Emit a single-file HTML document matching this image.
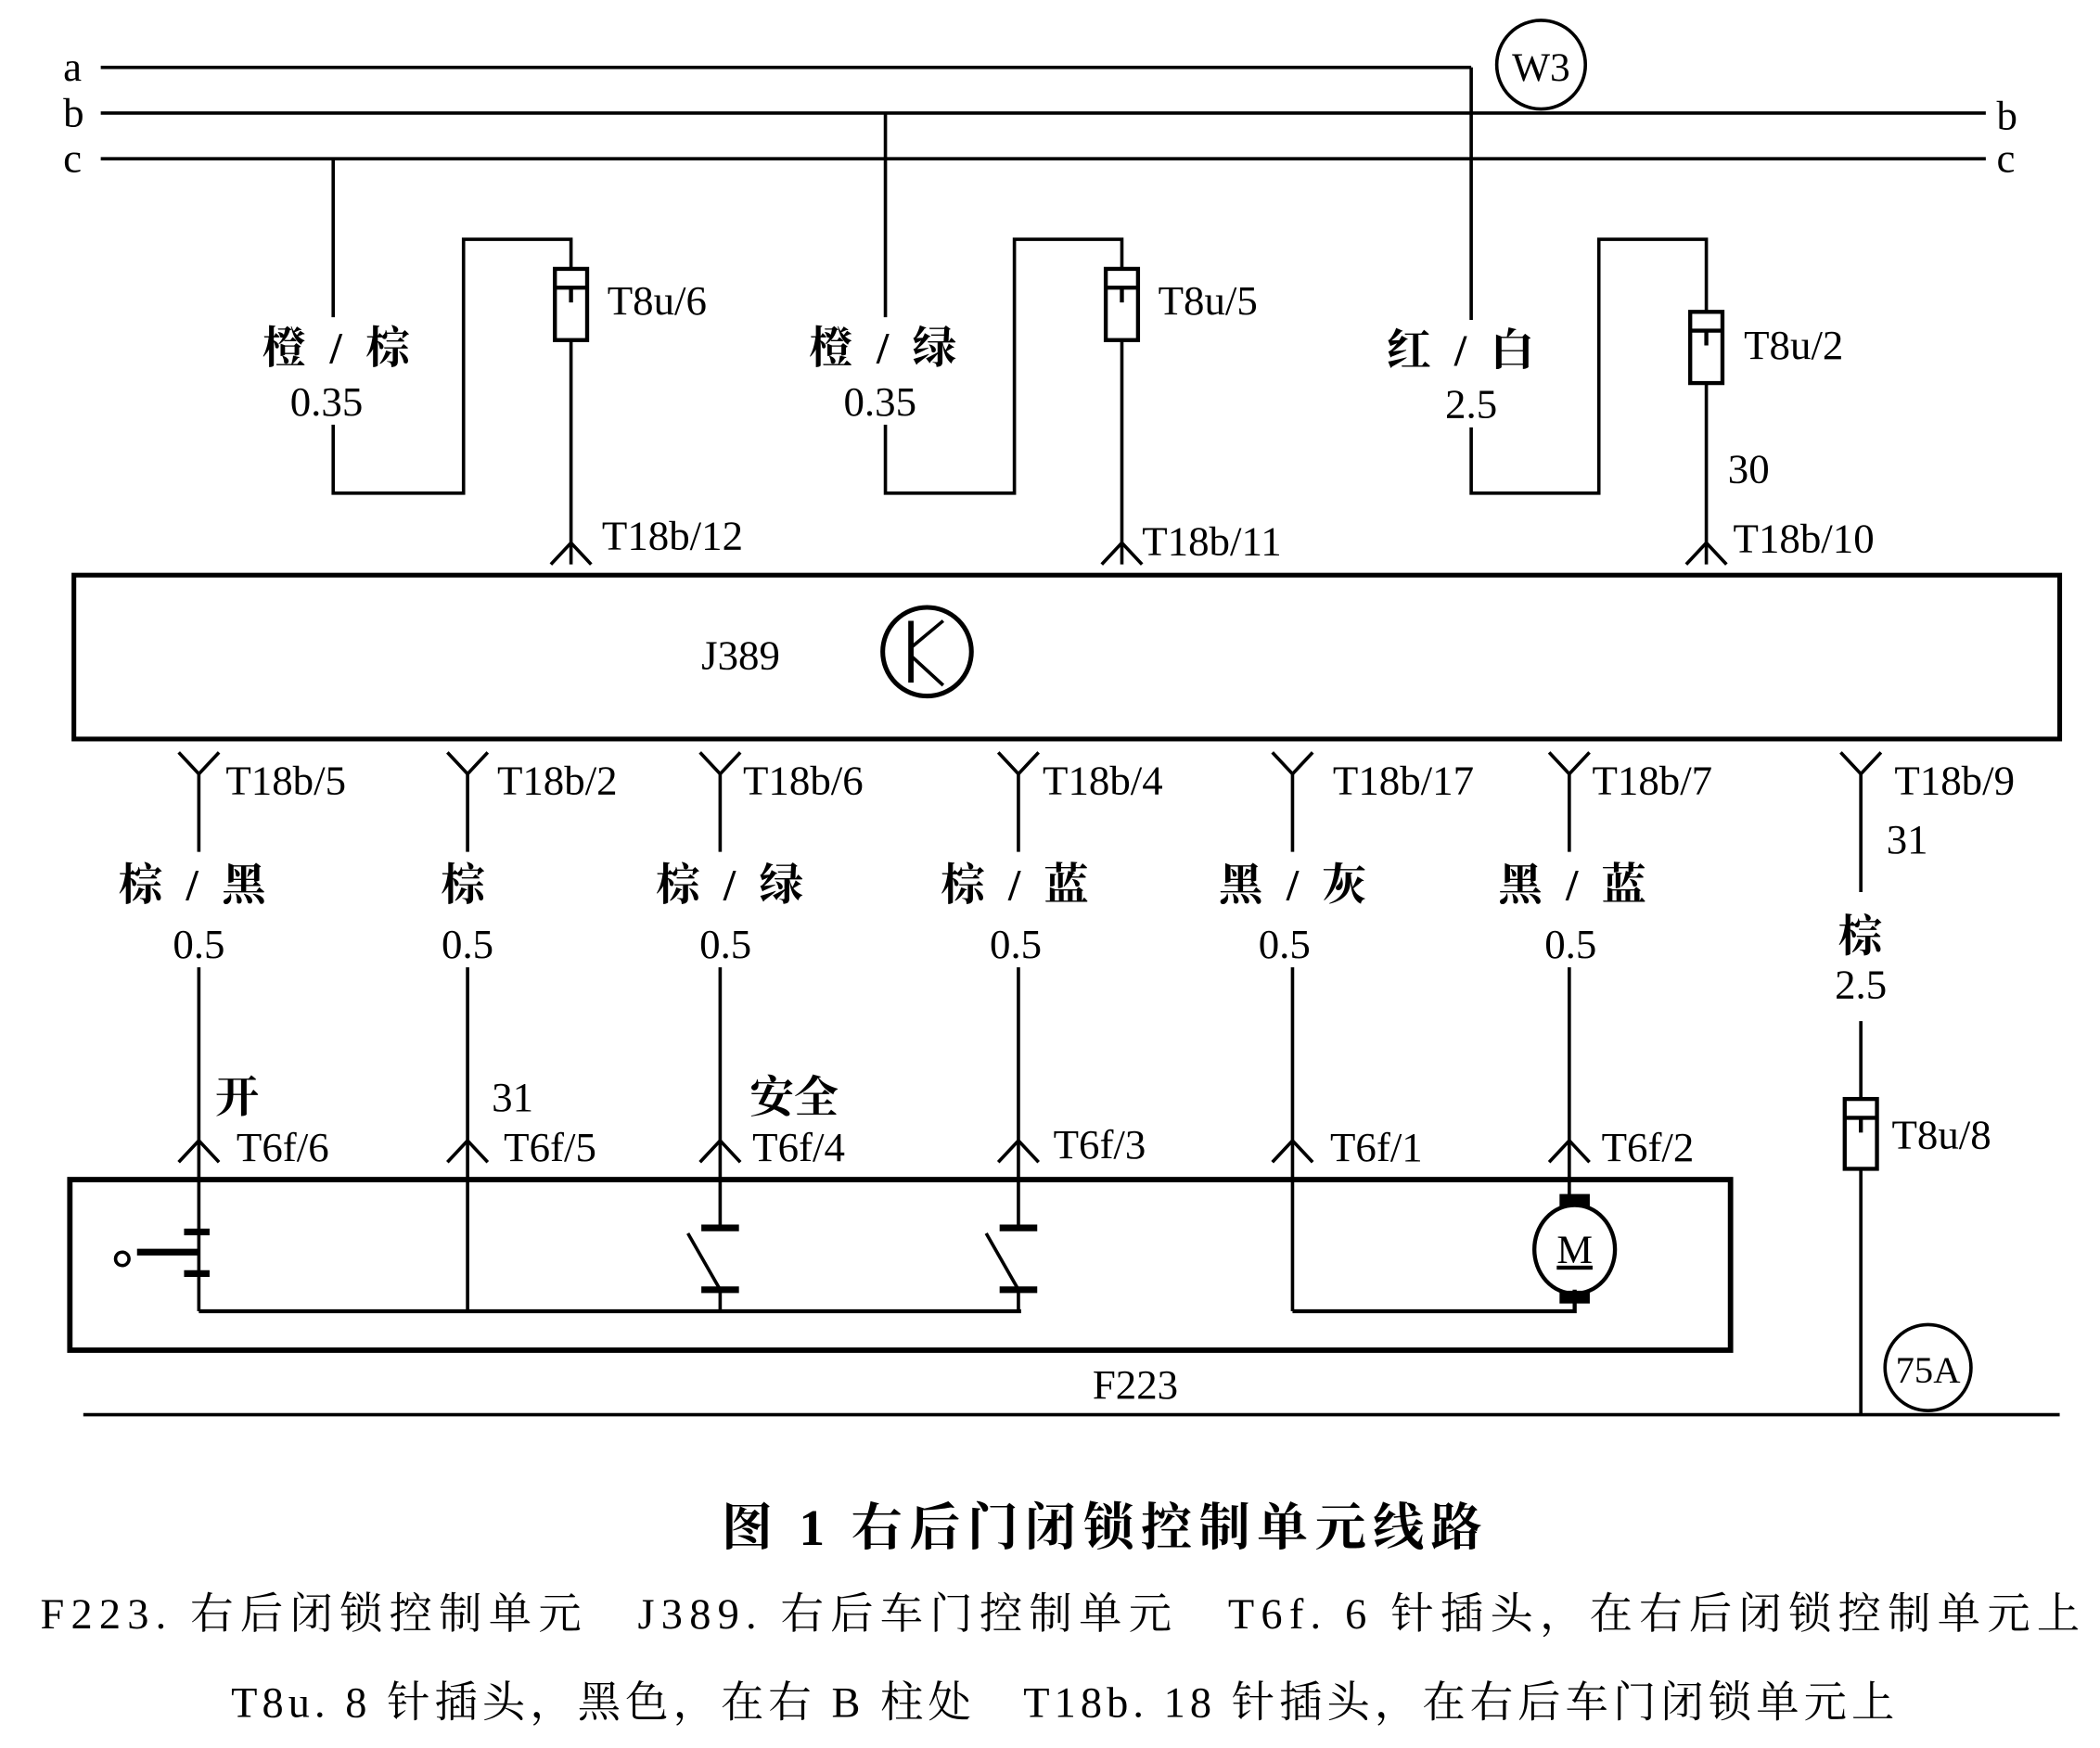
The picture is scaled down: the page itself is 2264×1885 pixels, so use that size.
<!DOCTYPE html>
<html><head><meta charset="utf-8"><style>
html,body{margin:0;padding:0;background:#fff;width:2264px;height:1885px;overflow:hidden}
svg{display:block}
text{font-family:"Liberation Serif","Noto Serif CJK SC",serif;fill:#000}
.z{font-family:"Liberation Sans","Noto Sans CJK SC",sans-serif;font-weight:bold}
</style></head><body>
<svg width="2264" height="1885" viewBox="0 0 1563 1301" xmlns="http://www.w3.org/2000/svg">
<g stroke="#000" stroke-width="2.5" fill="none">
<line x1="75" y1="50" x2="1095" y2="50"/>
<line x1="75" y1="84" x2="1478" y2="84"/>
<line x1="75" y1="118" x2="1478" y2="118"/>
<circle cx="1147" cy="48" r="33"/>
<polyline points="248,118 248,367 345,367 345,178 425,178 425,200"/>
<line x1="425" y1="253" x2="425" y2="420"/>
<polyline points="659,84 659,367 755,367 755,178 835,178 835,200"/>
<line x1="835" y1="253" x2="835" y2="420"/>
<polyline points="1095,50 1095,367 1190,367 1190,178 1270,178 1270,232"/>
<line x1="1270" y1="285" x2="1270" y2="420"/>
<polyline points="410,420 425,404 440,420"/>
<polyline points="820,420 835,404 850,420"/>
<polyline points="1255,420 1270,404 1285,420"/>
<rect x="55" y="428" width="1478" height="122" stroke-width="3.5"/>
<circle cx="690" cy="485" r="33" stroke-width="3.5"/>
<line x1="678" y1="462" x2="678" y2="508" stroke-width="4"/>
<line x1="678" y1="482" x2="702" y2="462"/>
<line x1="678" y1="488" x2="702" y2="510"/>
<g>
<polyline points="133,560 148,576 163,560"/><line x1="148" y1="576" x2="148" y2="634"/>
<polyline points="333,560 348,576 363,560"/><line x1="348" y1="576" x2="348" y2="634"/>
<polyline points="521,560 536,576 551,560"/><line x1="536" y1="576" x2="536" y2="634"/>
<polyline points="743,560 758,576 773,560"/><line x1="758" y1="576" x2="758" y2="634"/>
<polyline points="947,560 962,576 977,560"/><line x1="962" y1="576" x2="962" y2="634"/>
<polyline points="1153,560 1168,576 1183,560"/><line x1="1168" y1="576" x2="1168" y2="634"/>
<polyline points="1370,560 1385,576 1400,560"/><line x1="1385" y1="576" x2="1385" y2="664"/>
</g>
<g>
<line x1="148" y1="720" x2="148" y2="976"/><polyline points="133,865 148,849 163,865"/>
<line x1="348" y1="720" x2="348" y2="976"/><polyline points="333,865 348,849 363,865"/>
<line x1="536" y1="720" x2="536" y2="915"/><polyline points="521,865 536,849 551,865"/>
<line x1="758" y1="720" x2="758" y2="915"/><polyline points="743,865 758,849 773,865"/>
<line x1="962" y1="720" x2="962" y2="976"/><polyline points="947,865 962,849 977,865"/>
<line x1="1168" y1="720" x2="1168" y2="890"/><polyline points="1153,865 1168,849 1183,865"/>
</g>
<rect x="52" y="878" width="1236" height="127" stroke-width="4"/>
<line x1="148" y1="976" x2="760" y2="976" stroke-width="3"/>
<polyline points="962,976 1172,976 1172,960" stroke-width="3"/>
<line x1="137" y1="917" x2="156" y2="917" stroke-width="5"/>
<line x1="137" y1="948" x2="156" y2="948" stroke-width="5"/>
<line x1="102" y1="932" x2="148" y2="932" stroke-width="5"/>
<circle cx="91" cy="937" r="5"/>
<line x1="522" y1="914" x2="550" y2="914" stroke-width="5"/>
<line x1="522" y1="960" x2="550" y2="960" stroke-width="5"/>
<line x1="512" y1="918" x2="536" y2="960"/>
<line x1="536" y1="960" x2="536" y2="976"/>
<line x1="744" y1="914" x2="772" y2="914" stroke-width="5"/>
<line x1="744" y1="960" x2="772" y2="960" stroke-width="5"/>
<line x1="734" y1="918" x2="758" y2="960"/>
<line x1="758" y1="960" x2="758" y2="976"/>
<ellipse cx="1172" cy="930" rx="30" ry="33" stroke-width="3"/>
<rect x="1162" y="890" width="20" height="7" fill="#000"/>
<rect x="1162" y="962" width="20" height="7" fill="#000"/>
<line x1="1385" y1="760" x2="1385" y2="818"/>
<line x1="1385" y1="870" x2="1385" y2="1053"/>
<circle cx="1435" cy="1018" r="32"/>
<line x1="62" y1="1053" x2="1533" y2="1053"/>
<g stroke-width="3">
<rect x="413" y="200" width="24" height="53"/><line x1="413" y1="214" x2="437" y2="214"/><line x1="425" y1="214" x2="425" y2="225"/>
<rect x="823" y="200" width="24" height="53"/><line x1="823" y1="214" x2="847" y2="214"/><line x1="835" y1="214" x2="835" y2="225"/>
<rect x="1258" y="232" width="24" height="53"/><line x1="1258" y1="246" x2="1282" y2="246"/><line x1="1270" y1="246" x2="1270" y2="257"/>
<rect x="1373" y="818" width="24" height="52"/><line x1="1373" y1="832" x2="1397" y2="832"/><line x1="1385" y1="832" x2="1385" y2="843"/>
</g>
</g>
<!-- white backgrounds behind wire labels -->
<g fill="#fff">
<rect x="195" y="236" width="112" height="80"/>
<rect x="602" y="236" width="112" height="80"/>
<rect x="1032" y="238" width="112" height="80"/>
</g>
<g font-size="31">
<text x="47" y="60">a</text><text x="47" y="94">b</text><text x="47" y="128">c</text>
<text x="1486" y="96">b</text><text x="1486" y="128">c</text>
<text x="1147" y="60" text-anchor="middle" font-size="30">W3</text>
<text x="452" y="234">T8u/6</text><text x="862" y="234">T8u/5</text><text x="1298" y="267">T8u/2</text>
<text x="243" y="309" text-anchor="middle">0.35</text><text x="655" y="309" text-anchor="middle">0.35</text><text x="1095" y="311" text-anchor="middle">2.5</text>
<text x="1286" y="359">30</text>
<text x="448" y="409">T18b/12</text><text x="850" y="413">T18b/11</text><text x="1290" y="411">T18b/10</text>
<text x="522" y="498">J389</text>
<text x="168" y="591">T18b/5</text><text x="370" y="591">T18b/2</text><text x="553" y="591">T18b/6</text><text x="776" y="591">T18b/4</text><text x="992" y="591">T18b/17</text><text x="1185" y="591">T18b/7</text><text x="1410" y="591">T18b/9</text>
<text x="1404" y="635">31</text>
<text x="148" y="713" text-anchor="middle">0.5</text><text x="348" y="713" text-anchor="middle">0.5</text><text x="540" y="713" text-anchor="middle">0.5</text><text x="756" y="713" text-anchor="middle">0.5</text><text x="956" y="713" text-anchor="middle">0.5</text><text x="1169" y="713" text-anchor="middle">0.5</text>
<text x="1385" y="743" text-anchor="middle">2.5</text>
<text x="366" y="827">31</text>
<text x="176" y="864">T6f/6</text><text x="375" y="864">T6f/5</text><text x="560" y="864">T6f/4</text><text x="784" y="862">T6f/3</text><text x="990" y="864">T6f/1</text><text x="1192" y="864">T6f/2</text>
<text x="1408" y="855">T8u/8</text>
<text x="1435" y="1029" text-anchor="middle" font-size="28">75A</text>
<text x="845" y="1041" text-anchor="middle">F223</text>
<text x="1172" y="940" text-anchor="middle" font-size="30" text-decoration="underline">M</text>
</g>
<g font-size="33" class="z">
<text x="195" y="270" textLength="110" lengthAdjust="spacing">橙 / 棕</text>
<text x="602" y="270" textLength="110" lengthAdjust="spacing">橙 / 绿</text>
<text x="1032" y="272" textLength="110" lengthAdjust="spacing">红 / 白</text>
<text x="88" y="670" textLength="110" lengthAdjust="spacing">棕 / 黑</text>
<text x="328" y="670">棕</text>
<text x="488" y="670" textLength="110" lengthAdjust="spacing">棕 / 绿</text>
<text x="700" y="670" textLength="110" lengthAdjust="spacing">棕 / 蓝</text>
<text x="907" y="670" textLength="110" lengthAdjust="spacing">黑 / 灰</text>
<text x="1115" y="670" textLength="110" lengthAdjust="spacing">黑 / 蓝</text>
<text x="1368" y="708">棕</text>
<text x="160" y="828">开</text><text x="558" y="828">安全</text>
<text x="537" y="1150" font-size="38" textLength="566" lengthAdjust="spacing">图 1  右后门闭锁控制单元线路</text>
</g>
<g font-size="32">
<text x="30" y="1212" textLength="1518" lengthAdjust="spacing">F223. 右后闭锁控制单元　J389. 右后车门控制单元　T6f. 6 针插头，在右后闭锁控制单元上</text>
<text x="172" y="1278" textLength="1238" lengthAdjust="spacing">T8u. 8 针插头，黑色，在右 B 柱处　T18b. 18 针插头，在右后车门闭锁单元上</text>
</g>
</svg>
</body></html>
